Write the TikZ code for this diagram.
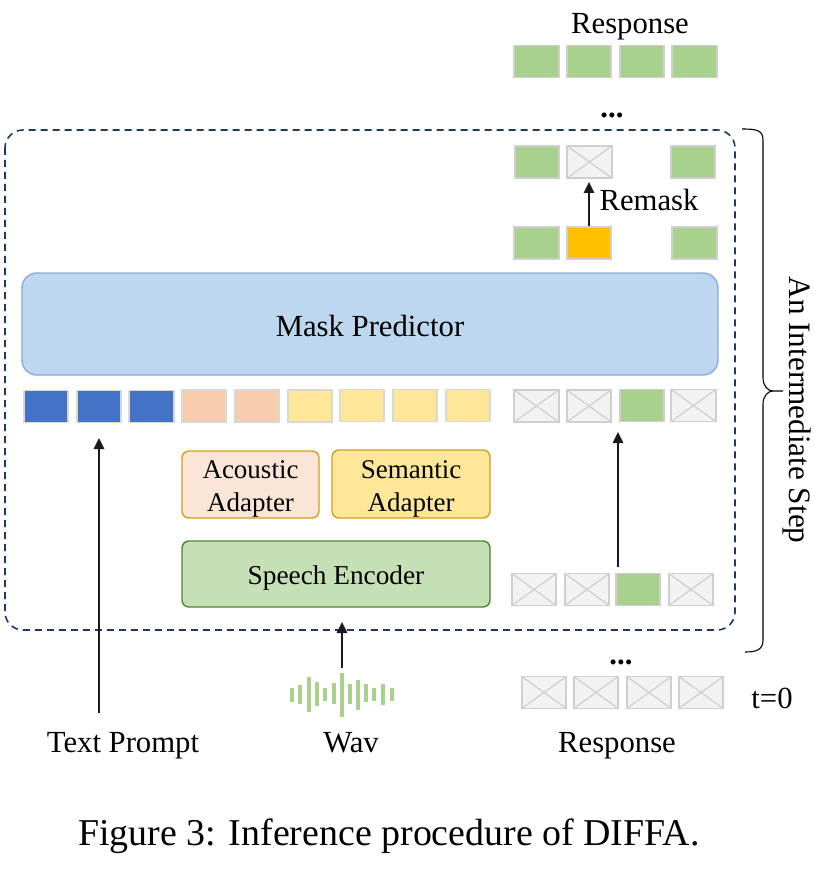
\documentclass[tikz,border=0pt]{standalone}
\usepackage{fontspec}
\setmainfont{Liberation Serif}
\usetikzlibrary{arrows.meta}
\definecolor{cgreen}{HTML}{A9D18E}
\definecolor{cgray}{HTML}{D0CECE}
\definecolor{cmask}{HTML}{F2F2F2}
\definecolor{cblue}{HTML}{4472C4}
\definecolor{cpeach}{HTML}{F7CBAC}
\definecolor{cyellow}{HTML}{FFE699}
\definecolor{corange}{HTML}{FFC000}
\definecolor{cgold}{HTML}{D09F1E}
\definecolor{cnavy}{HTML}{1F3864}
\definecolor{cedge}{HTML}{D6DAD2}
\newcommand{\lowertext}[2]{\raisebox{0pt}[\dimexpr\height+#1\relax]{#2}}
\tikzset{
  x=1pt,y=-1pt,
  cellbox/.style={rectangle,draw=cgray,line width=1.6pt,minimum width=44.5pt,minimum height=32pt,inner sep=0pt},
  greencell/.style={cellbox,fill=cgreen},
  maskcell/.style={cellbox,fill=cmask,path picture={
    \draw[cgray,line width=1.2pt] (path picture bounding box.north west)--(path picture bounding box.south east)
    (path picture bounding box.south west)--(path picture bounding box.north east);}},
  bluecell/.style={cellbox,fill=cblue,draw=cedge},
  peachcell/.style={cellbox,fill=cpeach,draw=cedge},
  yellowcell/.style={cellbox,fill=cyellow,draw=cedge},
  arr/.style={-{Triangle[length=11pt,width=10.5pt]},line width=1.3pt,draw=black!90,fill=black},
  lab/.style={anchor=base,inner sep=0pt,font=\fontsize{30.7}{33}\selectfont},
  dotslab/.style={anchor=base,inner sep=0pt,font=\bfseries\fontsize{30.7}{33}\selectfont},
  block/.style={rectangle,rounded corners=7pt,line width=1.4pt,inner sep=0pt,align=center},
  wavebar/.style={line width=4pt,draw=cgreen},
}
\begin{document}
\begin{tikzpicture}
\useasboundingbox (0,0) rectangle (814,882);
% dashed frame
\draw[cnavy,line width=1.6pt,dash pattern=on 7pt off 5pt,rounded corners=18pt] (5,130) rectangle (735,630);
% brace
\draw[black,line width=1.1pt] (742,129) .. controls (756,129) and (763,130) .. (763,140) -- (763,378)
  .. controls (763,386) and (768,391) .. (773,391) -- (783,391) -- (773,391)
  .. controls (768,391) and (763,396) .. (763,404) -- (763,640)
  .. controls (763,650) and (756,652) .. (745,652);
\node[rotate=-90,inner sep=0pt,font=\fontsize{31.2}{33}\selectfont] (step) at (797,410) {An Intermediate Step};
% top response
\node[lab] (resptop) at (630,34) {Response};
\foreach \n/\x in {a/536.5,b/589,c/642,d/694.5}
  \node[greencell] (t\n) at (\x,61.5) {};
\node[dotslab] (dotstop) at (612,118) {...};
% remask rows
\node[greencell] (ra) at (537,162) {};
\node[maskcell] (rb) at (589.5,162) {};
\node[greencell] (rd) at (693,162) {};
\node[greencell] (sa) at (536.5,243) {};
\node[cellbox,fill=corange] (sb) at (589,243) {};
\node[greencell] (sd) at (694.5,243) {};
\coordinate (rbin) at (589,182);
\draw[arr] (sb.north) -- (rbin);
\node[lab] (remask) at (649,211) {Remask};
% mask predictor
\node[block,rounded corners=15pt,draw={rgb,255:red,142;green,170;blue,219},minimum width=696pt,minimum height=102pt,font=\fontsize{30.7}{33}\selectfont,fill={rgb,255:red,189;green,215;blue,238}] (mask) at (370,324) {\lowertext{4pt}{Mask Predictor}};
% sequence row
\foreach \n/\x in {1/46,2/99,3/151.5}
  \node[bluecell] (m\n) at (\x,406.5) {};
\foreach \n/\x in {4/204,5/257}
  \node[peachcell] (m\n) at (\x,406) {};
\node[yellowcell] (m6) at (310,406) {};
\foreach \n/\x in {7/362,8/415,9/468}
  \node[yellowcell] (m\n) at (\x,405.5) {};
\node[maskcell] (ua) at (536.5,406) {};
\node[maskcell] (ub) at (589,406) {};
\node[greencell] (uc) at (642,405.5) {};
\node[maskcell] (ud) at (693.5,405.5) {};
% adapters
\node[block,fill={rgb,255:red,251;green,229;blue,214},draw=cgold,minimum width=137pt,minimum height=67pt,font=\fontsize{27}{33}\selectfont] (acoustic) at (250.5,484.5) {\lowertext{8pt}{\parbox{130pt}{\centering Acoustic\\Adapter}}};
\node[block,fill=cyellow,draw=cgold,minimum width=158pt,minimum height=68pt,font=\fontsize{27}{33}\selectfont] (semantic) at (411,484) {\lowertext{9pt}{\parbox{150pt}{\centering Semantic\\Adapter}}};
\node[block,fill={rgb,255:red,197;green,224;blue,180},draw={rgb,255:red,84;green,130;blue,53},minimum width=308pt,minimum height=66pt,font=\fontsize{27.3}{33}\selectfont] (speech) at (336,574) {\lowertext{8pt}{Speech Encoder}};
% lower row
\node[maskcell] (va) at (534,589.5) {};
\node[maskcell] (vb) at (587,589.5) {};
\node[greencell] (vc) at (638,589.5) {};
\node[maskcell] (vd) at (691,589.5) {};
\coordinate (vcup) at (618,567);
\coordinate (ucin) at (618,432);
\draw[arr] (vcup) -- (ucin);
% t=0 row
\foreach \n/\x in {a/544,b/596,c/649,d/701}
  \node[maskcell] (w\n) at (\x,692.5) {};
\node[dotslab] (dotsbot) at (621,664) {...};
\node[lab] (tzero) at (772,708) {t=0};
% bottom labels
\node[lab] (textprompt) at (123,752) {Text Prompt};
\node[lab] (wav) at (351,752) {Wav};
\node[lab] (respbot) at (617,752) {Response};
\coordinate (tpstart) at (99,713);
\coordinate (tpend) at (99,438);
\draw[arr] (tpstart) -- (tpend);
\coordinate (wavstart) at (342,668);
\coordinate (wavend) at (342,622);
\draw[arr] (wavstart) -- (wavend);
% waveform
\foreach \x/\a/\b in {292/687.5/701.5,299.5/684.5/704,309/677/711.5,316.5/681.5/705.5,325/687.5/701,333.5/682.5/704,342/673/716.5,350/683.5/704,358/679.5/709.5,366/683.5/702,374/687.5/701,383/683.5/705,391.5/687.5/701}
  \draw[wavebar] (\x,\a) -- (\x,\b);
% caption
\node[anchor=base,inner sep=0pt,font=\fontsize{37.9}{40}\selectfont] (caption) at (389,845) {Figure 3: Inference procedure of DIFFA.};
\end{tikzpicture}
\end{document}
